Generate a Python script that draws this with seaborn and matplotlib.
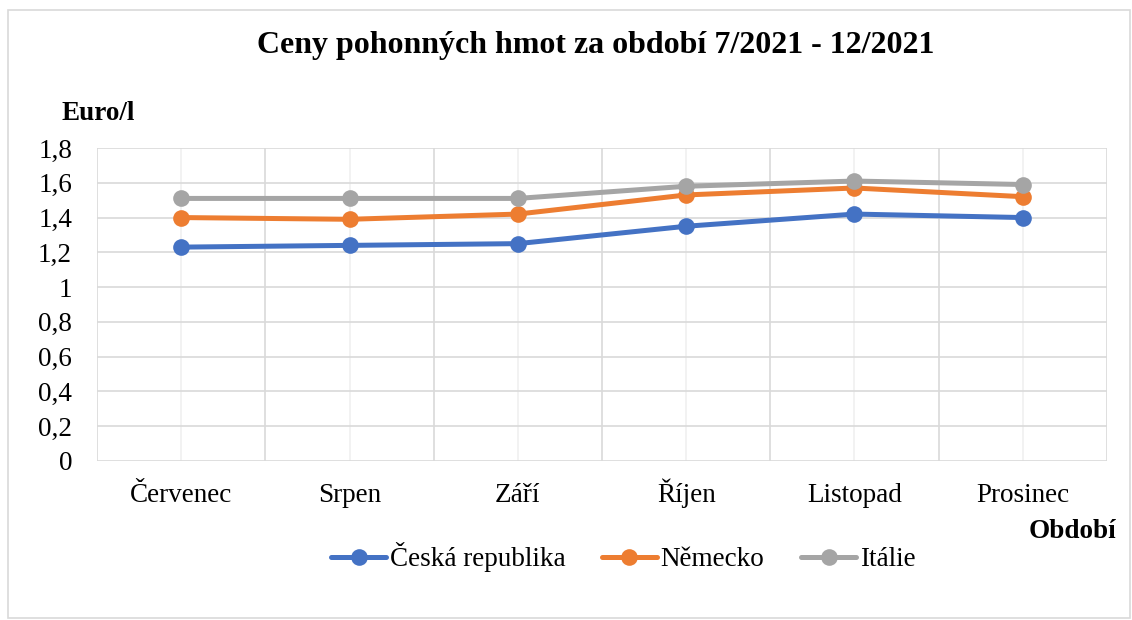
import numpy as np
import pandas as pd
import matplotlib
matplotlib.use("Agg")
import matplotlib.pyplot as plt
import seaborn as sns
from matplotlib.patches import Rectangle

# data
months = ["Červenec", "Srpen", "Září", "Říjen", "Listopad", "Prosinec"]
cz = [1.23, 1.24, 1.25, 1.35, 1.42, 1.40]
de = [1.40, 1.39, 1.42, 1.53, 1.57, 1.52]
it = [1.51, 1.51, 1.51, 1.58, 1.61, 1.59]
series_names = ["Česká republika", "Německo", "Itálie"]
colors = ["#4472C4", "#ED7D31", "#A5A5A5"]
y_ticks = [0, 0.2, 0.4, 0.6, 0.8, 1.0, 1.2, 1.4, 1.6, 1.8]

df = pd.DataFrame({
    "month": months * 3,
    "pos": list(range(len(months))) * 3,
    "price": cz + de + it,
    "country": [n for n in series_names for _ in months],
})

sns.set_theme(style="white")
plt.rcParams["font.family"] = ["Liberation Serif", "DejaVu Serif"]
plt.rcParams["text.color"] = "black"

fig = plt.figure(figsize=(11.32, 6.2), dpi=100)
ax = fig.add_axes([97 / 1132, 1 - 461 / 620, (1107 - 97) / 1132, (461 - 148) / 620])

sns.lineplot(data=df, x="pos", y="price", hue="country", hue_order=series_names,
             palette=colors, marker="o", markersize=12, markeredgewidth=0,
             linewidth=3.6, sort=False, ax=ax, legend=True)

ax.set_xlim(-0.5, len(months) - 0.5)
ax.set_ylim(0, 1.8)
ax.set_yticks(y_ticks)
ax.set_yticklabels([("%g" % v).replace(".", ",") for v in y_ticks])
ax.set_xticks(range(len(months)))
ax.set_xticklabels(months, va="baseline")
ax.set_xticks(np.arange(-0.5, len(months)), minor=True)
ax.tick_params(axis="both", which="major", length=0, labelsize=19.5, colors="black")
ax.tick_params(axis="x", which="major", pad=29.5)
ax.tick_params(axis="y", pad=18)
ax.tick_params(axis="x", which="minor", length=6, width=1.2, color="#d9d9d9", direction="out")

ax.grid(axis="y", color="#d9d9d9", linewidth=1.2)
ax.grid(axis="x", which="major", color="#f0f0f0", linewidth=1.2)
ax.grid(axis="x", which="minor", color="#d9d9d9", linewidth=1.2)
ax.set_axisbelow(True)
for s in ax.spines.values():
    s.set_visible(False)
ax.set_xlabel("")
ax.set_ylabel("")

fig.text(596 / 1132, 1 - 46 / 620, "Ceny pohonných hmot za období 7/2021 - 12/2021",
         ha="center", va="center", fontsize=23, fontweight="bold", color="black")
fig.text(62 / 1132, 1 - 113 / 620, "Euro/l", ha="left", va="center",
         fontsize=19.5, fontweight="bold", color="black")
fig.text(1116 / 1132, 1 - 531 / 620, "Období", ha="right", va="center",
         fontsize=19.5, fontweight="bold", color="black")

handles, labels = ax.get_legend_handles_labels()
leg = ax.legend(handles, labels, loc="center", bbox_to_anchor=(623 / 1132, 1 - 557 / 620),
                bbox_transform=fig.transFigure, ncol=3, frameon=False, fontsize=19.5,
                handlelength=2.05, handletextpad=0.12, columnspacing=1.35)
for t in leg.get_texts():
    t.set_color("black")

fig.patches.append(Rectangle((8 / 1132, 2 / 620), 1122 / 1132, 608 / 620,
                             transform=fig.transFigure, fill=False,
                             edgecolor="#d9d9d9", linewidth=1.2))

fig.savefig("out.png", dpi=100)
